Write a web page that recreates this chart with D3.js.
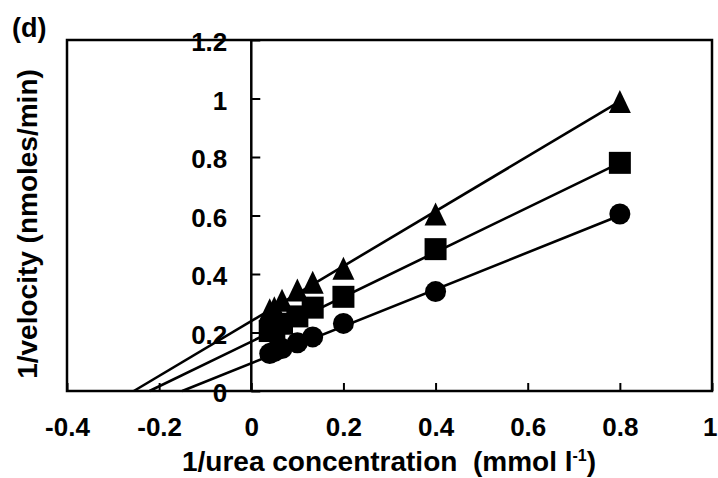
<!DOCTYPE html>
<html lang="en">
<head>
  <meta charset="UTF-8">
  <title>Lineweaver-Burk (d)</title>
  <style>
    body { margin: 0; background: #fff; }
    #chart { display: block; }
    text { font-family: "Liberation Sans", Arial, sans-serif; font-weight: bold; fill: #000; }
    .tick line { stroke: #000; stroke-width: 2; }
  </style>
</head>
<body>
  <svg id="chart" width="718" height="478"></svg>
  <script src="https://cdn.jsdelivr.net/npm/d3@7/dist/d3.min.js"></script>
  <script>
    // values
    const invUrea = [0.04, 0.05, 0.0667, 0.1, 0.1333, 0.2, 0.4, 0.8]
    const triangleVals = [0.278, 0.285, 0.31, 0.345, 0.372, 0.42, 0.605, 0.99]
    const squareVals = [0.205, 0.215, 0.23, 0.255, 0.285, 0.322, 0.485, 0.78]
    const circleVals = [0.128, 0.135, 0.145, 0.165, 0.185, 0.231, 0.34, 0.605]
    // fitted lines: x-intercept and value at 1/[S] = 0.8
    const fitXIntercepts = [-0.255, -0.221, -0.150]
    const fitEndVals = [0.99, 0.78, 0.60]
    const xTicks = [-0.4, -0.2, 0, 0.2, 0.4, 0.6, 0.8, 1]
    const yTicks = [0, 0.2, 0.4, 0.6, 0.8, 1, 1.2]

    const svg = d3.select('#chart')
    const x = d3.scaleLinear().domain([-0.4, 1]).range([67, 712])
    const y = d3.scaleLinear().domain([0, 1.2]).range([391, 40])

    // frame
    svg.append('rect')
      .attr('x', x(-0.4)).attr('y', y(1.2))
      .attr('width', x(1) - x(-0.4)).attr('height', y(0) - y(1.2))
      .attr('fill', 'none').attr('stroke', '#000').attr('stroke-width', 2.5)

    // x axis (ticks pointing up)
    const fmt = d => d === 0 ? '0' : String(+d.toFixed(1))
    const gx = svg.append('g')
      .attr('transform', `translate(0,${y(0)})`)
      .call(d3.axisBottom(x).tickValues(xTicks).tickFormat(fmt).tickSizeInner(-8).tickSizeOuter(0).tickPadding(27))
    gx.select('.domain').remove()
    gx.selectAll('text').style('font-size', '26px').attr('font-family', null)
    // last label sits at the window edge; keep it whole
    gx.selectAll('.tick').filter(d => d === 1).select('text')
      .attr('text-anchor', 'end').attr('x', 717 - x(1))

    // y axis at x = 0, ticks pointing right, labels on the left
    const gy = svg.append('g')
      .attr('transform', `translate(${x(0)},0)`)
      .call(d3.axisLeft(y).tickValues(yTicks).tickFormat(fmt).tickSizeInner(-9).tickSizeOuter(0).tickPadding(24))
    gy.select('.domain').remove()
    gy.selectAll('text').style('font-size', '26px').attr('dy', '0.42em')
    svg.append('line')
      .attr('x1', x(0)).attr('x2', x(0)).attr('y1', y(1.2)).attr('y2', y(0))
      .attr('stroke', '#000').attr('stroke-width', 2.5)

    // fitted lines
    const fits = fitXIntercepts.map((xi, i) => [[xi, 0], [0.8, fitEndVals[i]]])
    const line = d3.line().x(d => x(d[0])).y(d => y(d[1]))
    svg.append('g').selectAll('path')
      .data(fits)
      .enter()
      .append('path')
      .attr('d', line)
      .attr('fill', 'none')
      .attr('stroke', '#000')
      .attr('stroke-width', 2.6)

    // markers
    const tri = 'M0,-11.5L11,11.5L-11,11.5Z'
    const sq = 'M-11,-11H11V11H-11Z'
    const series = [
      { vals: triangleVals, shape: tri },
      { vals: squareVals, shape: sq },
      { vals: circleVals, shape: null }
    ]
    series.forEach(s => {
      const g = svg.append('g')
      const pts = invUrea.map((v, i) => [v, s.vals[i]])
      if (s.shape) {
        g.selectAll('path').data(pts).enter().append('path')
          .attr('d', s.shape)
          .attr('transform', d => `translate(${x(d[0])},${y(d[1])})`)
          .attr('fill', '#000')
      } else {
        g.selectAll('circle').data(pts).enter().append('circle')
          .attr('cx', d => x(d[0])).attr('cy', d => y(d[1])).attr('r', 10.5)
          .attr('fill', '#000')
      }
    })

    // titles
    svg.append('text')
      .attr('x', 12).attr('y', 37)
      .style('font-size', '27px')
      .text('(d)')

    svg.append('text')
      .attr('transform', `translate(37,224) rotate(-90)`)
      .attr('text-anchor', 'middle')
      .style('font-size', '28px')
      .text('1/velocity (nmoles/min)')

    const xt = svg.append('text')
      .attr('x', 389).attr('y', 471)
      .attr('text-anchor', 'middle')
      .style('font-size', '28px')
      .style('white-space', 'pre')
    xt.append('tspan').text('1/urea concentration  (mmol l')
    xt.append('tspan').attr('dy', -10).style('font-size', '16px').text('-1')
    xt.append('tspan').attr('dy', 10).text(')')
  </script>
</body>
</html>
